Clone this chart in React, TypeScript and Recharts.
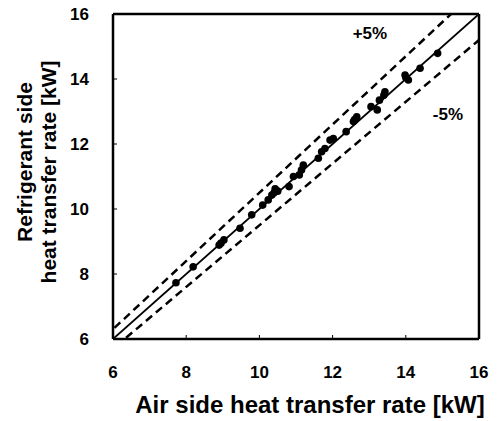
import { ComposedChart, Scatter, XAxis, YAxis, ReferenceLine, ReferenceDot, Label } from "recharts";

const airSide = [
  7.72, 8.19, 8.9, 8.95, 9.03, 9.47, 9.79, 10.09, 10.24, 10.34, 10.4, 10.43, 10.5,
  10.81, 10.93, 11.09, 11.15, 11.2, 11.61, 11.7, 11.79, 11.93, 12.02, 12.37, 12.57,
  12.6, 12.66, 13.05, 13.22, 13.28, 13.4, 13.43, 13.98, 14.0, 14.07, 14.39, 14.87,
];
const refrigerantSide = [
  7.73, 8.22, 8.89, 8.95, 9.05, 9.41, 9.82, 10.12, 10.28, 10.43, 10.5, 10.62, 10.55,
  10.69, 11.0, 11.05, 11.2, 11.35, 11.56, 11.76, 11.86, 12.12, 12.17, 12.38, 12.69,
  12.75, 12.84, 13.15, 13.05, 13.35, 13.5, 13.61, 14.12, 14.05, 13.97, 14.33, 14.79,
];
const ticks = [6, 8, 10, 12, 14, 16];
const bandRatios = [1.05, 0.95];

const points = airSide.map((x, i) => ({ x, y: refrigerantSide[i] }));

const FONT = "'Liberation Sans', Arial, sans-serif";

const YTitle = () => (
  <g fontFamily={FONT} fontWeight="bold" fontSize={21} fill="#000">
    <text transform="translate(32,162) rotate(-90)" textAnchor="middle">
      Refrigerant side
    </text>
    <text transform="translate(56,172) rotate(-90)" textAnchor="middle">
      heat transfer rate [kW]
    </text>
  </g>
);

const XTitle = () => (
  <text x={310} y={413} textAnchor="middle" fontFamily={FONT} fontWeight="bold" fontSize={24} fill="#000">
    Air side heat transfer rate [kW]
  </text>
);

const Dot = (props: any) => <circle cx={props.cx} cy={props.cy} r={3.8} fill="#000" />;

const tickStyle = { fill: "#000", fontSize: 17, fontWeight: "bold", fontFamily: FONT };
const noteStyle = { fill: "#000", fontSize: 17, fontWeight: "bold", fontFamily: FONT };

export default function App() {
  return (
    <div style={{ position: "absolute", left: 0, top: 0, background: "#fff" }}>
      <ComposedChart width={497} height={421} margin={{ top: 14, right: 18, left: 0, bottom: 0 }}>
        <XAxis
          type="number"
          dataKey="x"
          domain={[6, 16]}
          ticks={ticks}
          height={82}
          allowDataOverflow
          axisLine={{ stroke: "#000", strokeWidth: 2.5 }}
          tickLine={{ stroke: "#000" }}
          tickSize={-4}
          tickMargin={31}
          tick={tickStyle}
        >
          <Label content={<XTitle />} />
        </XAxis>
        <YAxis
          type="number"
          dataKey="y"
          domain={[6, 16]}
          ticks={ticks}
          width={113}
          allowDataOverflow
          axisLine={{ stroke: "#000", strokeWidth: 2.5 }}
          tickLine={{ stroke: "#000" }}
          tickSize={-4}
          tickMargin={28}
          tick={tickStyle}
        >
          <Label content={<YTitle />} />
        </YAxis>
        <ReferenceLine y={16} stroke="#000" strokeWidth={2.5} />
        <ReferenceLine x={16} stroke="#000" strokeWidth={2.5} />
        <ReferenceLine
          segment={[{ x: 6, y: 6 }, { x: 16, y: 16 }]}
          stroke="#000"
          strokeWidth={1.8}
          ifOverflow="hidden"
        />
        {bandRatios.map((r) => (
          <ReferenceLine
            key={r}
            segment={[{ x: 5, y: 5 * r }, { x: 17, y: 17 * r }]}
            stroke="#000"
            strokeWidth={2.5}
            strokeDasharray="8 5"
            ifOverflow="hidden"
          />
        ))}
        <ReferenceDot x={13.02} y={15.42} r={0} label={{ value: "+5%", position: "center", ...noteStyle }} />
        <ReferenceDot x={15.15} y={12.92} r={0} label={{ value: "-5%", position: "center", ...noteStyle }} />
        <Scatter data={points} dataKey="y" shape={<Dot />} isAnimationActive={false} />
      </ComposedChart>
    </div>
  );
}
